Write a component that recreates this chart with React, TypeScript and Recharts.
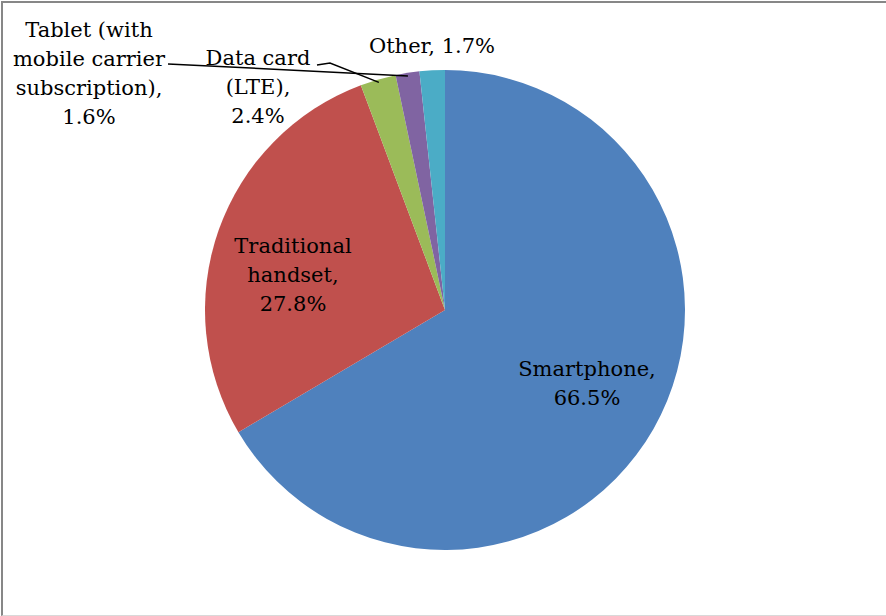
import { PieChart, Pie, Cell } from 'recharts';

const categories = ['Smartphone', 'Traditional handset', 'Data card (LTE)', 'Tablet (with mobile carrier subscription)', 'Other'];
const shares = [66.5, 27.8, 2.4, 1.6, 1.7];
const sliceColors = ['#4F81BD', '#C0504D', '#9BBB59', '#8064A2', '#4BACC6'];

// label text, split into lines the way the original wraps them
const labelLines = [
  ['Smartphone,', '66.5%'],
  ['Traditional', 'handset,', '27.8%'],
  ['Data card', '(LTE),', '2.4%'],
  ['Tablet (with', 'mobile carrier', 'subscription),', '1.6%'],
  ['Other, 1.7%'],
];

// label placement relative to pie centre (dx, dy of first baseline), plus optional leader line start points
const labelLayout = [
  { dx: 142, dy: 66, leader: null },
  { dx: -152, dy: -57, leader: null },
  { dx: -187, dy: -245, leader: [[-128, -245], [-115, -247]] },
  { dx: -356, dy: -273, leader: [[-277, -246]] },
  { dx: -13, dy: -257, leader: null },
];

const data = categories.map((name, i) => ({ name, value: shares[i] }));

const RAD = Math.PI / 180;
const LINE_H = 29;

function renderLabel(props: any) {
  const { cx, cy, midAngle, outerRadius, index } = props;
  const lay = labelLayout[index];
  const lines = labelLines[index];
  const x = cx + lay.dx;
  const y = cy + lay.dy;
  let leader = null;
  if (lay.leader) {
    const r = outerRadius - 3;
    const ex = cx + r * Math.cos(-midAngle * RAD);
    const ey = cy + r * Math.sin(-midAngle * RAD);
    const pts = lay.leader.map(([px, py]) => `${cx + px},${cy + py}`).concat(`${ex},${ey}`);
    leader = <polyline points={pts.join(' ')} fill="none" stroke="#000" strokeWidth={1.5} />;
  }
  return (
    <g key={`lbl-${index}`}>
      {leader}
      <text x={x} y={y} textAnchor="middle" fill="#000" fontSize={21} fontFamily="'DejaVu Serif', serif">
        {lines.map((ln, j) => (
          <tspan key={j} x={x} y={y + j * LINE_H}>{ln}</tspan>
        ))}
      </text>
    </g>
  );
}

export default function App() {
  return (
    <div
      style={{
        position: 'absolute',
        left: 0,
        top: 0,
        width: 886,
        height: 616,
        overflow: 'hidden',
        background: '#fff',
      }}
    >
      <div style={{ position: 'absolute', left: 0, top: 0 }}>
        <PieChart width={886} height={616} margin={{ top: 0, right: 0, bottom: 0, left: 0 }}>
          <Pie
            data={data}
            dataKey="value"
            nameKey="name"
            cx={445}
            cy={310}
            outerRadius={240}
            startAngle={90}
            endAngle={-270}
            stroke="none"
            label={renderLabel}
            labelLine={false}
            isAnimationActive={false}
          >
            {data.map((d, i) => (
              <Cell key={d.name} fill={sliceColors[i]} />
            ))}
          </Pie>
        </PieChart>
      </div>
      {/* frame of the original chart area */}
      <div
        style={{
          position: 'absolute',
          left: 1,
          top: 1,
          width: 900,
          height: 612,
          borderTop: '2px solid #878787',
          borderLeft: '2px solid #878787',
          borderBottom: '1px solid #d9d9d9',
          pointerEvents: 'none',
        }}
      />
    </div>
  );
}
